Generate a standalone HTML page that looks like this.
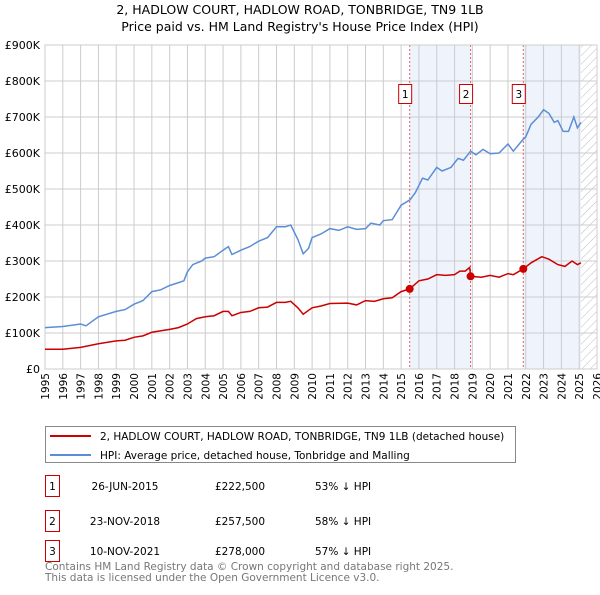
<!DOCTYPE html>
<html><head><meta charset="utf-8"><style>
body{margin:0;background:#fff;font-family:"Liberation Sans","DejaVu Sans",sans-serif;}
svg text{font-family:"DejaVu Sans","Liberation Sans",sans-serif;}
</style></head><body>
<svg id="chart" width="600" height="590" xmlns="http://www.w3.org/2000/svg">
<defs><pattern id="hatch" width="6" height="6" patternUnits="userSpaceOnUse" patternTransform="rotate(45)"><line x1="0" y1="0" x2="0" y2="6" stroke="#bbb" stroke-width="1"/></pattern></defs>
<text x="300" y="14" font-size="12.5" text-anchor="middle">2, HADLOW COURT, HADLOW ROAD, TONBRIDGE, TN9 1LB</text>
<text x="300" y="31" font-size="12.5" text-anchor="middle">Price paid vs. HM Land Registry's House Price Index (HPI)</text>
<g id="plot"></g>
<g>
<rect x="45.5" y="426.5" width="470" height="36" fill="#fff" stroke="#888"/>
<line x1="50" y1="436" x2="91" y2="436" stroke="#cc0000" stroke-width="2"/>
<text x="100" y="440" font-size="10.5">2, HADLOW COURT, HADLOW ROAD, TONBRIDGE, TN9 1LB (detached house)</text>
<line x1="50" y1="455" x2="91" y2="455" stroke="#5b8ed6" stroke-width="2"/>
<text x="100" y="459" font-size="10.5">HPI: Average price, detached house, Tonbridge and Malling</text>
</g>
<g font-size="10.5">
<rect x="45.5" y="475.5" width="14" height="21" fill="#fff" stroke="#cc0000"/><text x="52.5" y="490" text-anchor="middle">1</text>
<text x="125" y="490" text-anchor="middle">26-JUN-2015</text><text x="240" y="490" text-anchor="middle">£222,500</text><text x="315" y="490">53% ↓ HPI</text>
<rect x="45.5" y="510.5" width="14" height="21" fill="#fff" stroke="#cc0000"/><text x="52.5" y="525" text-anchor="middle">2</text>
<text x="125" y="525" text-anchor="middle">23-NOV-2018</text><text x="240" y="525" text-anchor="middle">£257,500</text><text x="315" y="525">58% ↓ HPI</text>
<rect x="45.5" y="540.5" width="14" height="21" fill="#fff" stroke="#cc0000"/><text x="52.5" y="555" text-anchor="middle">3</text>
<text x="125" y="555" text-anchor="middle">10-NOV-2021</text><text x="240" y="555" text-anchor="middle">£278,000</text><text x="315" y="555">57% ↓ HPI</text>
</g>
<text x="45" y="570" font-size="10.5" fill="#777">Contains HM Land Registry data © Crown copyright and database right 2025.</text>
<text x="45" y="581" font-size="10.5" fill="#777">This data is licensed under the Open Government Licence v3.0.</text>
</svg>
<script>
const hpiX=[1995,1996,1997,1997.3,1998,1999,1999.5,2000,2000.5,2001,2001.5,2002,2002.5,2002.8,2003,2003.3,2003.8,2004,2004.5,2005,2005.3,2005.5,2006,2006.5,2007,2007.5,2008,2008.5,2008.8,2009.2,2009.5,2009.8,2010,2010.5,2011,2011.5,2012,2012.5,2013,2013.3,2013.8,2014,2014.5,2015,2015.5,2015.8,2016.2,2016.5,2017,2017.3,2017.8,2018.2,2018.5,2018.9,2019.2,2019.6,2020,2020.5,2021,2021.3,2021.8,2022,2022.3,2022.7,2023,2023.3,2023.6,2023.8,2024.1,2024.4,2024.7,2024.9,2025.1];
const hpiY=[115,118,125,120,145,160,165,180,190,215,220,232,240,245,270,290,300,308,312,330,340,318,330,340,355,365,395,395,400,360,320,335,365,375,390,385,395,388,390,405,400,412,415,455,470,490,530,525,560,550,560,585,580,605,595,610,598,600,625,605,635,645,680,700,720,710,685,690,660,660,700,670,685];
const ppX=[1995,1996,1997,1998,1999,1999.5,2000,2000.5,2001,2002,2002.5,2003,2003.5,2004,2004.5,2005,2005.3,2005.5,2006,2006.5,2007,2007.5,2008,2008.5,2008.8,2009.2,2009.5,2010,2010.5,2011,2012,2012.5,2013,2013.5,2014,2014.5,2015,2015.48,2016,2016.5,2017,2017.5,2018,2018.3,2018.6,2018.85,2018.9,2019.5,2020,2020.5,2021,2021.3,2021.86,2022.3,2022.9,2023.3,2023.8,2024.2,2024.6,2024.9,2025.1];
const ppY=[55,55,60,70,78,80,88,92,102,110,115,125,140,145,148,160,160,148,157,160,170,172,185,185,188,170,152,170,175,182,183,178,190,188,195,198,215,222.5,245,250,262,260,262,272,272,282,257.5,255,260,255,265,262,278,295,312,305,290,285,300,290,295];
const saleX=[2015.48,2018.9,2021.86];
const saleY=[222.5,257.5,278];
const saleLabels=["1","2","3"];
const yTicks=[0,100,200,300,400,500,600,700,800,900];
const yTickLabels=["£0","£100K","£200K","£300K","£400K","£500K","£600K","£700K","£800K","£900K"];
const xYears=[];for(let y=1995;y<=2026;y++)xYears.push(y);
const L=45,R=597,T=45,B=369,x0=1995,x1=2026;
const sx=v=>L+(v-x0)/(x1-x0)*(R-L), sy=v=>B-v/900*(B-T);
const g=document.getElementById('plot'),NS='http://www.w3.org/2000/svg';
function mk(t,a,p){const e=document.createElementNS(NS,t);for(const k in a)e.setAttribute(k,a[k]);(p||g).appendChild(e);return e;}
let e;
e=mk('rect',{x:sx(saleX[0]),y:T,width:sx(saleX[1])-sx(saleX[0]),height:B-T,fill:'#eef3fc'});


e=mk('rect',{x:sx(saleX[2]),y:T,width:sx(2025.1)-sx(saleX[2]),height:B-T,fill:'#eef3fc'});


e=mk('rect',{x:sx(2025.1),y:T,width:R-sx(2025.1),height:B-T,fill:'url(#hatch)'});


xYears.forEach(y=>{e=mk('line',{x1:sx(y),x2:sx(y),y1:T,y2:B,stroke:'#ccc'});


e=mk('text',{x:0,y:0,'font-size':10.5,'text-anchor':'end',transform:'translate('+(sx(y)+4)+',373) rotate(-90)'});e.textContent=y;

});
yTicks.forEach((v,i)=>{e=mk('line',{x1:L,x2:R,y1:sy(v),y2:sy(v),stroke:'#ccc'});


e=mk('text',{x:40,y:sy(v)+4,'font-size':11,'text-anchor':'end'});e.textContent=yTickLabels[i];

});
saleX.forEach((v,i)=>{e=mk('line',{x1:sx(v),x2:sx(v),y1:T,y2:B,stroke:'#e06060','stroke-dasharray':'2,2'});


e=mk('rect',{x:sx(v)-11,y:84.5,width:13,height:19,fill:'#fff',stroke:'#cc0000'});


e=mk('text',{x:sx(v)-4.5,y:98,'font-size':10.5,'text-anchor':'middle'});e.textContent=saleLabels[i];

});
e=mk('rect',{x:L,y:T,width:R-L,height:B-T,fill:'none',stroke:'#ccc'});


e=mk('polyline',{points:hpiX.map((x,i)=>sx(x)+','+sy(hpiY[i])).join(' '),fill:'none',stroke:'#5b8ed6','stroke-width':1.5});


e=mk('polyline',{points:ppX.map((x,i)=>sx(x)+','+sy(ppY[i])).join(' '),fill:'none',stroke:'#cc0000','stroke-width':1.5});


saleX.forEach((v,i)=>{e=mk('circle',{cx:sx(v),cy:sy(saleY[i]),r:4,fill:'#cc0000'});

});
</script>
</body></html>
